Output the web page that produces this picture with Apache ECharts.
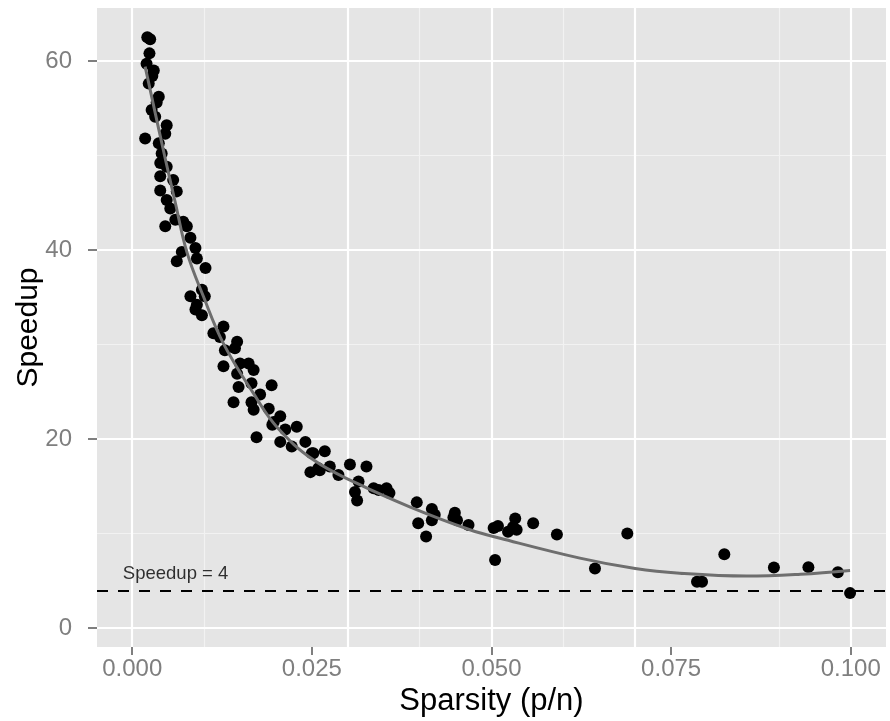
<!DOCTYPE html>
<html>
<head>
<meta charset="utf-8">
<script src="https://cdn.jsdelivr.net/npm/echarts@6/dist/echarts.min.js"></script>
<style>html,body{margin:0;padding:0;background:#fff;}#c{width:890px;height:721px;}</style>
</head>
<body>
<div id="c"></div>
<script>
const sparsity = [0.0021,0.0025,0.0024,0.0020,0.0030,0.0028,0.0023,0.0037,0.0034,0.0027,0.0032,0.0048,0.0046,0.0018,0.0037,0.0041,0.0039,0.0048,0.0039,0.0057,0.0039,0.0062,0.0048,0.0053,0.0060,0.0071,0.0076,0.0046,0.0081,0.0088,0.0069,0.0090,0.0062,0.0102,0.0097,0.0081,0.0101,0.0090,0.0088,0.0097,0.0127,0.0113,0.0122,0.0146,0.0143,0.0129,0.0127,0.0150,0.0162,0.0169,0.0146,0.0194,0.0166,0.0148,0.0178,0.0141,0.0166,0.0169,0.0190,0.0206,0.0197,0.0229,0.0213,0.0173,0.0206,0.0222,0.0241,0.0252,0.0248,0.0259,0.0268,0.0275,0.0287,0.0303,0.0326,0.0315,0.0310,0.0313,0.0336,0.0343,0.0354,0.0358,0.0396,0.0398,0.0409,0.0417,0.0421,0.0417,0.0449,0.0447,0.0452,0.0468,0.0503,0.0509,0.0505,0.0533,0.0530,0.0523,0.0535,0.0558,0.0591,0.0644,0.0689,0.0824,0.0786,0.0793,0.0893,0.0941,0.0982,0.0999,0.0250,0.0195,0.0261];
const speedup = [62.5,62.3,60.8,59.7,59.0,58.4,57.6,56.2,55.6,54.8,54.1,53.2,52.3,51.8,51.3,50.2,49.2,48.8,47.8,47.4,46.3,46.2,45.3,44.4,43.2,43.0,42.5,42.5,41.3,40.2,39.8,39.1,38.8,38.1,35.8,35.1,35.1,34.2,33.7,33.1,31.9,31.2,30.8,30.3,29.6,29.4,27.7,28.0,28.0,27.3,26.9,25.7,25.9,25.5,24.7,23.9,23.9,23.1,23.2,22.4,21.8,21.3,21.0,20.2,19.7,19.2,19.7,18.5,16.5,16.9,18.7,17.1,16.2,17.3,17.1,15.5,14.4,13.5,14.8,14.6,14.8,14.3,13.3,11.1,9.7,12.6,12.0,11.4,12.2,11.7,11.4,10.9,10.6,10.8,7.2,11.6,10.7,10.2,10.4,11.1,9.9,6.3,10.0,7.8,4.9,4.9,6.4,6.45,5.9,3.7,18.5,21.5,16.7];
const smoothX = [0.0018,0.0030,0.0045,0.0060,0.0076,0.0099,0.0127,0.0169,0.0201,0.0252,0.0313,0.0387,0.0470,0.0512,0.0623,0.0700,0.0762,0.0855,0.0930,0.0999];
const smoothY = [59.4,55.2,50.0,45.0,39.8,35.1,30.1,24.8,21.3,17.8,15.3,12.8,10.4,9.5,7.4,6.3,5.8,5.5,5.7,6.1];
const threshold = 4;
const thresholdLabel = 'Speedup = 4';
const xTicks = [0, 0.025, 0.05, 0.075, 0.1];
const xMinor = [0.0125, 0.0375, 0.0625, 0.0875];
const yTicks = [0, 20, 40, 60];
const yMinor = [10, 30, 50];

const chart = echarts.init(document.getElementById('c'), null, {renderer: 'canvas'});
const FONT = 'Liberation Sans';
const points = sparsity.map((x, i) => [x, speedup[i]]);
const smooth = smoothX.map((x, i) => [x, smoothY[i]]);

const gridLines = [];
xMinor.forEach(v => gridLines.push({xAxis: v, lineStyle: {color: '#F2F2F2', width: 1.2, type: 'solid'}}));
yMinor.forEach(v => gridLines.push({yAxis: v, lineStyle: {color: '#F2F2F2', width: 1.2, type: 'solid'}}));
xTicks.forEach(v => gridLines.push({xAxis: v, lineStyle: {color: '#FFFFFF', width: 2.2, type: 'solid'}}));
yTicks.forEach(v => gridLines.push({yAxis: v, lineStyle: {color: '#FFFFFF', width: 2.2, type: 'solid'}}));

chart.setOption({
  animation: false,
  backgroundColor: '#FFFFFF',
  grid: {left: 97, right: 4, top: 8, bottom: 74, show: true, backgroundColor: '#E5E5E5', borderWidth: 0,
    containLabel: false, outerBoundsMode: 'none'},
  xAxis: {
    type: 'value', min: -0.0049, max: 0.1049,
    name: 'Sparsity (p/n)', nameLocation: 'middle', nameGap: 39, nameMoveOverlap: false,
    nameTextStyle: {fontFamily: FONT, fontSize: 31, color: '#000'},
    axisLine: {show: false, onZero: false},
    splitLine: {show: false},
    axisTick: {show: true, interval: 0, customValues: xTicks, length: 8, lineStyle: {color: '#7F7F7F', width: 2}},
    axisLabel: {customValues: xTicks, interval: 0, margin: 10, fontFamily: FONT, fontSize: 24, color: '#7F7F7F',
      formatter: v => v.toFixed(3)}
  },
  yAxis: {
    type: 'value', min: -2, max: 65.6,
    name: 'Speedup', nameLocation: 'middle', nameGap: 53, nameRotate: 90, nameMoveOverlap: false,
    nameTextStyle: {fontFamily: FONT, fontSize: 30, color: '#000'},
    axisLine: {show: false, onZero: false},
    splitLine: {show: false},
    axisTick: {show: true, interval: 0, customValues: yTicks, length: 9, lineStyle: {color: '#7F7F7F', width: 2}},
    axisLabel: {customValues: yTicks, interval: 0, margin: 25, fontFamily: FONT, fontSize: 24, color: '#7F7F7F'}
  },
  series: [
    {
      type: 'line', data: [], silent: true, z: 1,
      markLine: {silent: true, z: 1, symbol: 'none', label: {show: false}, animation: false, data: gridLines}
    },
    {
      type: 'line', data: [], silent: true, z: 3,
      markLine: {silent: true, z: 3, symbol: 'none', label: {show: false}, animation: false,
        data: [{yAxis: threshold, lineStyle: {color: '#000', width: 2, type: [11, 10]}}]}
    },
    {
      type: 'scatter', data: points, symbol: 'circle', symbolSize: 12, z: 4,
      itemStyle: {color: '#000', opacity: 1}
    },
    {
      type: 'line', data: smooth, smooth: 0.4, showSymbol: false, z: 5,
      lineStyle: {color: '#6E6E6E', width: 3}
    },
    {
      type: 'scatter', data: [[-0.0013, 5.7]], symbolSize: 0, z: 6, silent: true,
      label: {show: true, position: 'right', distance: 0, formatter: thresholdLabel,
        fontFamily: FONT, fontSize: 18.5, color: '#000'}
    }
  ]
});
</script>
</body>
</html>
